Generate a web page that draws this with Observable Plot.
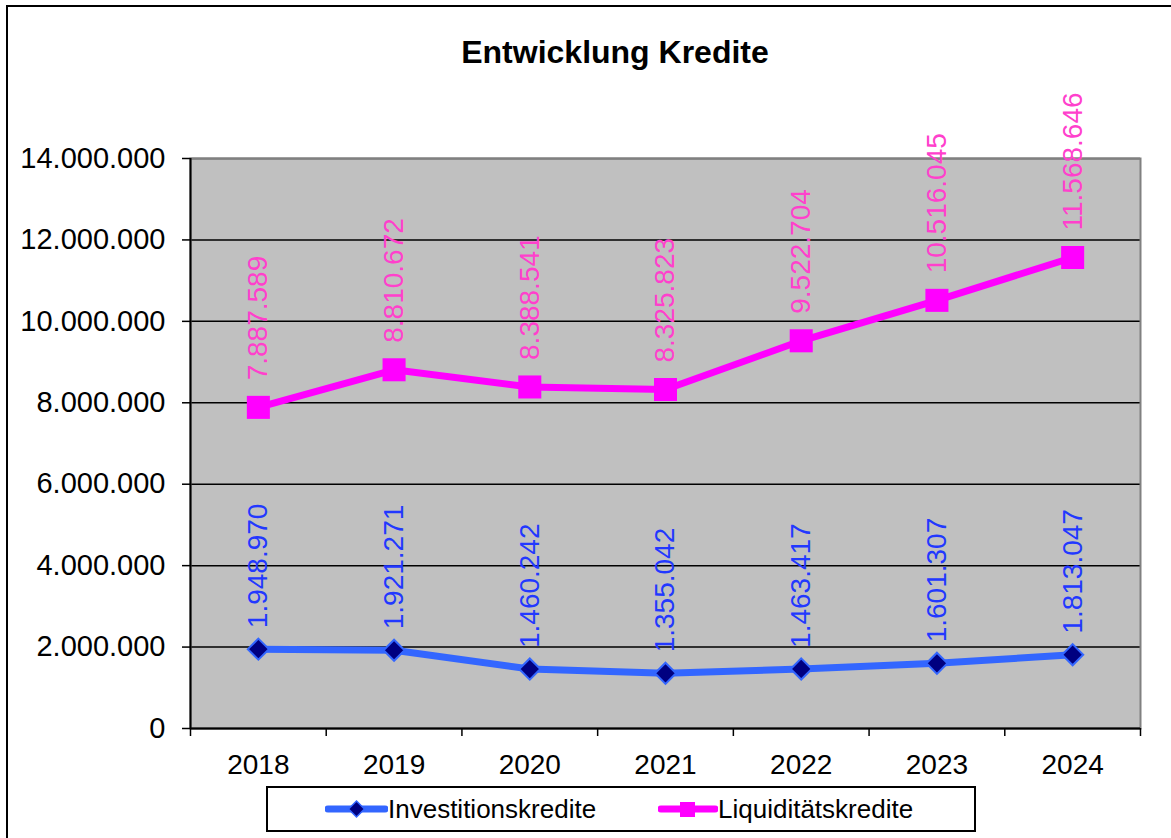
<!DOCTYPE html>
<html>
<head>
<meta charset="utf-8">
<script src="https://cdn.jsdelivr.net/npm/d3@7"></script>
<script src="https://cdn.jsdelivr.net/npm/@observablehq/plot@0.6"></script>
<style>
  html, body { margin: 0; padding: 0; background: #fff; overflow: hidden; }
  #page { position: relative; width: 1171px; height: 838px; overflow: hidden; font-family: "Liberation Sans", Arial, sans-serif; }
  #border { position: absolute; left: 6px; top: 5px; width: 1200px; height: 900px; border: 2px solid #000; box-sizing: border-box; }
  #title { position: absolute; left: 0; width: 1230px; top: 34px; text-align: center; font-weight: bold; font-size: 32px; color: #000; }
  #chart { position: absolute; left: 0; top: 88px; }
  #legend { position: absolute; left: 266px; top: 786px; width: 710px; height: 46px; border: 2px solid #000; box-sizing: border-box; background: #fff; }
  .item { position: absolute; top: 0; height: 42px; display: flex; align-items: center; font-size: 26px; color: #000; }
  .item svg { display: block; }
</style>
</head>
<body>
<div id="page">
  <div id="border"></div>
  <div id="title">Entwicklung Kredite</div>
  <div id="chart"></div>
  <div id="legend">
    <div class="item" style="left:57px">
      <svg width="63" height="20"><line x1="3" y1="10" x2="60" y2="10" stroke="#3366FF" stroke-width="7" stroke-linecap="round"/><path d="M31.5,2 L39.5,10 L31.5,18 L23.5,10 Z" fill="#000080" stroke="#3366FF" stroke-width="1.5"/></svg>
      <span>Investitionskredite</span>
    </div>
    <div class="item" style="left:390px">
      <svg width="60" height="24"><line x1="3" y1="12" x2="57" y2="12" stroke="#FF00FF" stroke-width="7" stroke-linecap="round"/><rect x="22" y="5" width="15" height="15" fill="#FF00FF"/></svg>
      <span>Liquiditätskredite</span>
    </div>
  </div>
</div>
<script>
const years = [2018, 2019, 2020, 2021, 2022, 2023, 2024];
const investitionskredite = [1948970, 1921271, 1460242, 1355042, 1463417, 1601307, 1813047];
const liquiditaetskredite = [7887589, 8810672, 8388541, 8325823, 9522704, 10516045, 11568646];
const yTicks = [0, 2000000, 4000000, 6000000, 8000000, 10000000, 12000000, 14000000];
const xBoundaries = [2017.5, 2018.5, 2019.5, 2020.5, 2021.5, 2022.5, 2023.5, 2024.5];

const de = d3.formatLocale({decimal: ",", thousands: ".", grouping: [3], currency: ["", " €"]});
const fmt = de.format(",d");

const inv = years.map((y, i) => ({year: y, value: investitionskredite[i]}));
const liq = years.map((y, i) => ({year: y, value: liquiditaetskredite[i]}));

const chart = Plot.plot({
  width: 1171,
  height: 700,
  marginTop: 70,
  marginBottom: 60,
  marginLeft: 190,
  marginRight: 31,
  style: {fontFamily: "'Liberation Sans', Arial, sans-serif", fontSize: "28px", background: "transparent", overflow: "visible"},
  x: {type: "linear", domain: [xBoundaries[0], xBoundaries[xBoundaries.length - 1]]},
  y: {domain: [0, 14000000]},
  marks: [
    Plot.frame({fill: "#C0C0C0", stroke: "none"}),
    Plot.gridY(yTicks, {stroke: "#000", strokeOpacity: 1, strokeWidth: 1.5}),
    Plot.frame({stroke: "#808080", strokeWidth: 2}),
    Plot.ruleY([0], {stroke: "#000", strokeWidth: 2}),
    Plot.ruleX([xBoundaries[0]], {stroke: "#000", strokeWidth: 2}),
    Plot.axisY(yTicks, {tickSize: 8, tickPadding: 17, tickFormat: fmt, label: null, fontSize: 29, strokeWidth: 1.5}),
    Plot.axisX(xBoundaries, {tickSize: 8, tickFormat: () => "", label: null, strokeWidth: 1.5}),
    Plot.axisX(years, {tickSize: 0, tickPadding: 26, tickFormat: d => String(d), label: null, fontSize: 28}),
    Plot.line(inv, {x: "year", y: "value", stroke: "#3366FF", strokeWidth: 7}),
    Plot.line(liq, {x: "year", y: "value", stroke: "#FF00FF", strokeWidth: 7}),
    Plot.dot(inv, {x: "year", y: "value", symbol: "diamond2", r: 9.5, fill: "#000080", stroke: "#3366FF", strokeWidth: 2}),
    Plot.dot(liq, {x: "year", y: "value", symbol: "square", r: 13, fill: "#FF00FF", stroke: "none"}),
    Plot.text(inv, {x: "year", y: "value", text: d => fmt(d.value), rotate: -90, textAnchor: "start", lineAnchor: "middle", dy: -21, fill: "#2238FF", fontSize: 28}),
    Plot.text(liq, {x: "year", y: "value", text: d => fmt(d.value), rotate: -90, textAnchor: "start", lineAnchor: "middle", dy: -27, fill: "#FF40CC", fontSize: 28})
  ]
});
document.getElementById("chart").appendChild(chart);
</script>
</body>
</html>
